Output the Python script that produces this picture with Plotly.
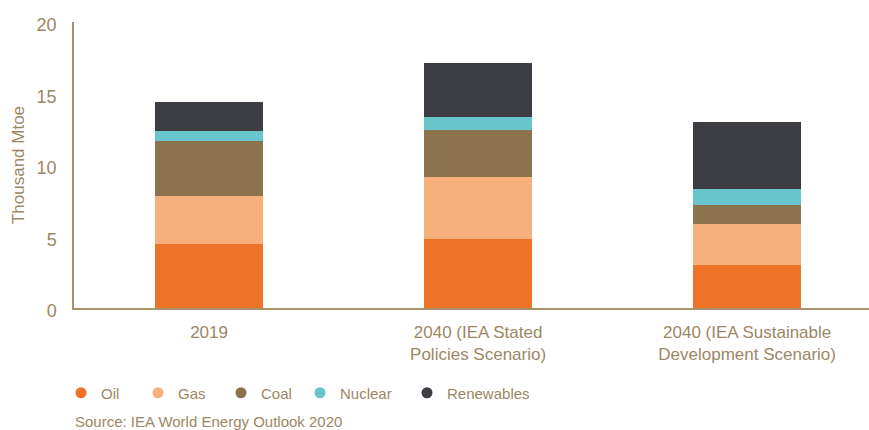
import plotly.graph_objects as go

categories = ["2019", "2040 (IEA Stated<br>Policies Scenario)", "2040 (IEA Sustainable<br>Development Scenario)"]
oil = [4.49, 4.84, 3.02]
gas = [3.35, 4.33, 2.87]
coal = [3.84, 3.28, 1.32]
nuclear = [0.70, 0.91, 1.12]
renewables = [2.03, 3.77, 4.68]

series = [
    ("Oil", oil, "#EE7227"),
    ("Gas", gas, "#F7AF7C"),
    ("Coal", coal, "#8B734D"),
    ("Nuclear", nuclear, "#68C5CC"),
    ("Renewables", renewables, "#3D3E44"),
]

text_color = "#9C8765"
axis_color = "#A89068"
font_family = "Liberation Sans, Arial, sans-serif"

fig = go.Figure()
x_idx = list(range(len(categories)))
for name, vals, col in series:
    fig.add_trace(go.Bar(x=x_idx, y=vals, name=name, marker=dict(color=col, line=dict(width=0)),
                         width=0.4, showlegend=False))

# legend entries (circle markers), each in its own legend for exact positioning
legend_px = [61, 138, 221, 300, 407]
legend_ids = ["legend", "legend2", "legend3", "legend4", "legend5"]
for (name, vals, col), lid in zip(series, legend_ids):
    fig.add_trace(go.Scatter(x=[None], y=[None], mode="markers", name=name,
                             marker=dict(color=col, size=11, symbol="circle"),
                             legend=lid, showlegend=True))

layout_legends = {}
for px, lid in zip(legend_px, legend_ids):
    layout_legends[lid] = dict(
        x=px / 869, y=(430 - 393) / 430, xref="container", yref="container",
        xanchor="left", yanchor="middle", orientation="h",
        font=dict(size=15, color=text_color, family=font_family),
        bgcolor="rgba(0,0,0,0)", borderwidth=0,
    )

fig.update_layout(
    barmode="stack",
    width=869, height=430,
    margin=dict(l=74, r=0, t=22, b=122),
    paper_bgcolor="white", plot_bgcolor="white",
    font=dict(family=font_family, color=text_color, size=17),
    xaxis=dict(
        tickmode="array", tickvals=x_idx, ticktext=categories,
        range=[-0.502, 2.453], showgrid=False, zeroline=False,
        showline=True, linecolor=axis_color, linewidth=1.5,
        ticks="", tickfont=dict(size=17, color=text_color),
        ticklabelstandoff=8,
    ),
    yaxis=dict(
        range=[0, 20], tickvals=[0, 5, 10, 15, 20], showgrid=False, zeroline=False,
        showline=True, linecolor=axis_color, linewidth=1.5,
        ticks="", tickfont=dict(size=18, color=text_color),
        ticklabelstandoff=12, ticklabelshift=3,
        title=dict(text="Thousand Mtoe", font=dict(size=17, color=text_color), standoff=8),
    ),
    annotations=[
        dict(text="Source: IEA World Energy Outlook 2020", xref="paper", yref="paper",
             x=(73 - 74) / 795, y=(308.3 - 422) / 286.3, xanchor="left", yanchor="middle",
             showarrow=False, font=dict(size=15, color=text_color, family=font_family)),
    ],
    **layout_legends,
)

fig.write_html("out.html")
